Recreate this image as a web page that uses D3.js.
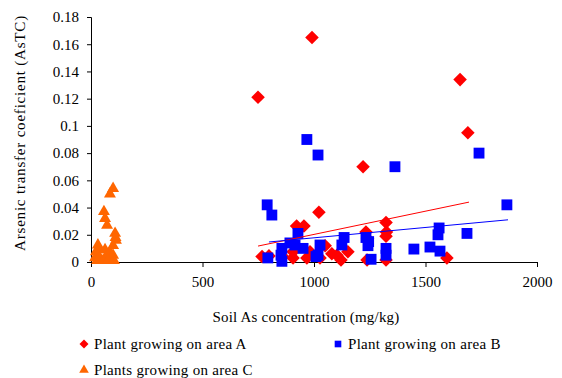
<!DOCTYPE html>
<html>
<head>
<script src="https://d3js.org/d3.v7.min.js"></script>
<style>
  body { margin: 0; background: #fff; }
  text { font-family: "Liberation Serif", "Times New Roman", serif; fill: #000; }
</style>
</head>
<body>
<svg id="chart" width="562" height="378"></svg>
<script>
// area A - red diamonds [soil As, AsTC]
var areaA = [
  [749, 0.121], [991, 0.165], [1655, 0.134], [1690, 0.095], [1220, 0.070],
  [1022, 0.0365], [922, 0.0265], [955, 0.0265], [1323, 0.029], [1323, 0.019],
  [1233, 0.022], [1240, 0.017], [1050, 0.012], [1152, 0.0075], [1121, 0.0015],
  [1103, 0.005], [1027, 0.003], [968, 0.003], [906, 0.003], [906, 0.0075],
  [798, 0.0045], [767, 0.004], [1238, 0.0015], [1323, 0.0015], [1596, 0.003],
  [982, 0.0075], [1080, 0.006], [860, 0.004], [1325, 0.022]
];
// area B - blue squares
var areaB = [
  [968, 0.090], [1018, 0.0786], [1363, 0.070], [1740, 0.080], [790, 0.042],
  [811, 0.0345], [1865, 0.042], [1686, 0.021], [1561, 0.025], [1556, 0.020],
  [1520, 0.011], [1565, 0.008], [1448, 0.0095], [1323, 0.010], [1323, 0.005],
  [1256, 0.002], [1233, 0.018], [1242, 0.012], [1135, 0.018], [1125, 0.0125],
  [1027, 0.0125], [1018, 0.005], [1009, 0.004], [951, 0.010], [928, 0.021],
  [915, 0.0125], [892, 0.014], [856, 0.010], [852, 0.005], [856, 0.0005],
  [793, 0.003], [1245, 0.015]
];
// area C - orange triangles
var areaC = [
  [99, 0.054], [85, 0.050], [58, 0.037], [63, 0.032], [72, 0.027],
  [108, 0.021], [112, 0.016], [99, 0.012], [31, 0.0125], [40, 0.009],
  [22, 0.0075], [63, 0.009], [85, 0.0075], [18, 0.003], [40, 0.003],
  [63, 0.003], [85, 0.003], [99, 0.005], [27, 0.001], [54, 0.001],
  [76, 0.001], [103, 0.001], [110, 0.018]
];
// linear trend lines (end points)
var trendA = [[749, 0.0117], [1695, 0.044]];
var trendB = [[798, 0.0147], [1870, 0.031]];

var xTicks = [0, 500, 1000, 1500, 2000];
var yTicks = [0, 0.02, 0.04, 0.06, 0.08, 0.1, 0.12, 0.14, 0.16, 0.18];

var svg = d3.select("#chart");

var x = d3.scaleLinear().domain([0, 2000]).range([91, 537]);
var y = d3.scaleLinear().domain([0, 0.18]).range([262, 17]);

// axes
var xAxis = svg.append("g")
  .attr("transform", "translate(0,262)")
  .call(d3.axisBottom(x).tickValues(xTicks).tickSize(5).tickPadding(9).tickFormat(d3.format("d")));
var yAxis = svg.append("g")
  .attr("transform", "translate(91,0)")
  .call(d3.axisLeft(y).tickValues(yTicks).tickSize(4).tickPadding(8).tickFormat(function(d) { return d === 0 ? "0" : String(+d.toFixed(2)); }));

[xAxis, yAxis].forEach(function(a) {
  a.select(".domain").attr("stroke", "#000");
  a.selectAll(".tick line").attr("stroke", "#000");
  a.selectAll("text").style("font-size", "15px").attr("fill", "#000").style("font-family", "Liberation Serif");
});

// markers
var sq = d3.symbol().type(d3.symbolSquare);

svg.append("g").selectAll("path").data(areaA).join("path")
  .attr("d", sq.size(92)())
  .attr("transform", function(d) { return "translate(" + x(d[0]) + "," + y(d[1]) + ") rotate(45)"; })
  .attr("fill", "#ff0000");

svg.append("g").selectAll("path").data(areaB).join("path")
  .attr("d", sq.size(118)())
  .attr("transform", function(d) { return "translate(" + x(d[0]) + "," + y(d[1]) + ")"; })
  .attr("fill", "#0000ff");

svg.append("g").selectAll("path").data(areaC).join("path")
  .attr("d", d3.symbol().type(d3.symbolTriangle).size(62)())
  .attr("transform", function(d) { return "translate(" + x(d[0]) + "," + y(d[1]) + ")"; })
  .attr("fill", "#ff6600");

// trend lines
var line = d3.line().x(function(d) { return x(d[0]); }).y(function(d) { return y(d[1]); });
svg.append("path").datum(trendA).attr("d", line).attr("fill", "none").attr("stroke", "#ff0000").attr("stroke-width", 1);
svg.append("path").datum(trendB).attr("d", line).attr("fill", "none").attr("stroke", "#0000ff").attr("stroke-width", 1);

// axis titles
svg.append("text")
  .attr("x", 306).attr("y", 322)
  .attr("text-anchor", "middle")
  .style("font-size", "15px")
  .style("letter-spacing", "0.2px")
  .text("Soil As concentration (mg/kg)");

svg.append("text")
  .attr("transform", "translate(25,133) rotate(-90)")
  .attr("text-anchor", "middle")
  .style("font-size", "15px")
  .style("letter-spacing", "0.8px")
  .text("Arsenic transfer coeficient (AsTC)");

// legend
var legend = svg.append("g");
legend.append("path").attr("d", sq.size(40)()).attr("transform", "translate(84,344) rotate(45)").attr("fill", "#ff0000");
legend.append("text").attr("x", 94).attr("y", 349).style("font-size", "15px").style("letter-spacing", "0.3px").text("Plant growing on area A");
legend.append("path").attr("d", sq.size(44)()).attr("transform", "translate(338,344)").attr("fill", "#0000ff");
legend.append("text").attr("x", 348).attr("y", 349).style("font-size", "15px").style("letter-spacing", "0.3px").text("Plant growing on area B");
legend.append("path").attr("d", d3.symbol().type(d3.symbolTriangle).size(40)()).attr("transform", "translate(84,370)").attr("fill", "#ff6600");
legend.append("text").attr("x", 94).attr("y", 375).style("font-size", "15px").style("letter-spacing", "0.3px").text("Plants growing on area C");
</script>
</body>
</html>
